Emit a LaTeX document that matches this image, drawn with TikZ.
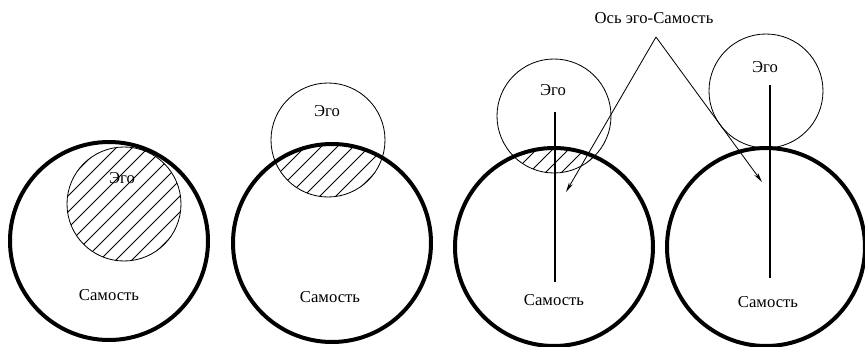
\documentclass[tikz,border=0pt]{standalone}
\usepackage{fontspec}
\setmainfont{Liberation Serif}
\newfontfamily\timesfont{Liberation Serif}
\usetikzlibrary{arrows.meta}

\begin{document}
\begin{tikzpicture}[x=0.6pt,y=0.6pt,
  self/.style={draw,line width=2.4pt},
  ego/.style={draw,line width=0.5pt},
  hatch/.style={line width=0.45pt},
  axis/.style={line width=1.5pt},
  pointer/.style={line width=0.5pt,-{Stealth[length=6pt,width=2.6pt]}},
  lbl/.style={font=\timesfont\fontsize{10}{12}\selectfont}
]
  \useasboundingbox (0,0) rectangle (865,346);

  % Centres of Self (s) and Ego (e) circles
  \coordinate (s1) at (109,105); \coordinate (e1) at (124,142);
  \coordinate (s2) at (332,103); \coordinate (e2) at (328,206);
  \coordinate (s3) at (554,99);  \coordinate (e3) at (554,230);
  \coordinate (s4) at (766,99);  \coordinate (e4) at (766,255);

  % Hatched overlap of Ego and Self
  \foreach \s/\e in {s1/e1,s2/e2,s3/e3}{
    \begin{scope}
      \clip (\s) circle (99);
      \clip (\e) circle (57);
      \foreach \k in {-8,...,8}
        \draw[hatch] ([shift={({\k*16-80},-80)}]\e) -- ++(160,160);
    \end{scope}
  }

  % Circles
  \foreach \s in {s1,s2,s3,s4}
    \draw[self] (\s) circle (99);
  \foreach \e in {e1,e2,e3,e4}
    \draw[ego] (\e) circle (57);

  % Labels
  \node[lbl] (ego1)  at (122,168) {Эго};
  \node[lbl] (ego2)  at (327,235) {Эго};
  \node[lbl] (ego3)  at (553,256) {Эго};
  \node[lbl] (ego4)  at (765,279) {Эго};
  \node[lbl] (self1) at (109,51) {Самость};
  \node[lbl] (self2) at (330,49) {Самость};
  \node[lbl] (self3) at (554,46) {Самость};
  \node[lbl] (self4) at (768,44) {Самость};

  % Ego-Self axis
  \coordinate (top3) at (555,234); \coordinate (bot3) at (555,64);
  \coordinate (top4) at (770,261); \coordinate (bot4) at (770,68);
  \draw[axis] (top3) -- (bot3);
  \draw[axis] (top4) -- (bot4);

  \node[lbl] (axislabel) at (654,328) {Ось эго-Самость};
  \coordinate (apex) at (656,309);
  \coordinate (tip3) at (566,154);
  \coordinate (tip4) at (762,164);
  \draw[pointer] (apex) -- (tip3);
  \draw[pointer] (apex) -- (tip4);
\end{tikzpicture}
\end{document}
